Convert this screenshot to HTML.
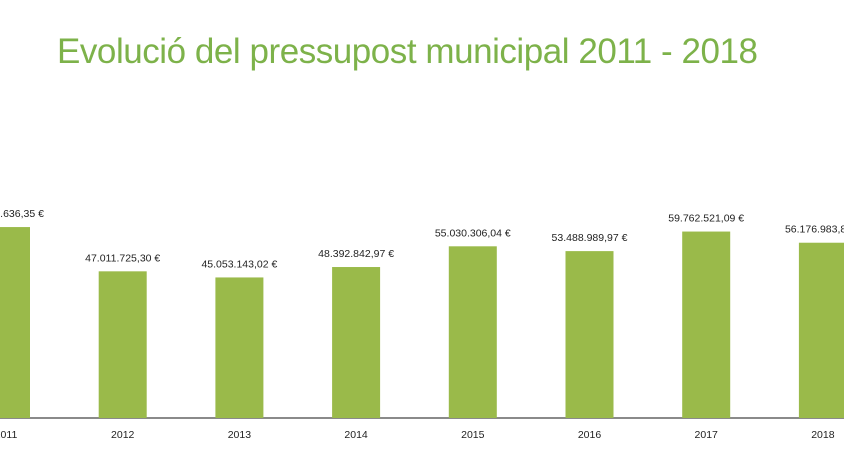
<!DOCTYPE html>
<html><head><meta charset="utf-8"><style>
body{margin:0;background:#fff;}
svg{display:block;}
</style></head><body>
<svg width="844" height="474" viewBox="0 0 844 474" xmlns="http://www.w3.org/2000/svg" id="chart">
<text x="57" y="63" font-family="Liberation Sans, sans-serif" font-size="35" fill="#7db24a" textLength="701" lengthAdjust="spacing">Evolució del pressupost municipal 2011 - 2018</text>
<line x1="0" y1="418" x2="844" y2="418" stroke="#444" stroke-width="1.2"/>
<g id="bars"></g>
</svg>
<script>
const years = ["2011","2012","2013","2014","2015","2016","2017","2018"];
const values = [61.2, 47.01, 45.05, 48.39, 55.03, 53.49, 59.76, 56.18];
const labels = ["61.243.636,35 €","47.011.725,30 €","45.053.143,02 €","48.392.842,97 €","55.030.306,04 €","53.488.989,97 €","59.762.521,09 €","56.176.983,85 €"];
const NS="http://www.w3.org/2000/svg";
const g=document.getElementById('bars');
const baseY=418, pxPerM=3.12, step=116.7, x0=6, bw=48;
function xs(i){return x0+i*step;}
function ys(v){return baseY-v*pxPerM;}
years.forEach((y,i)=>{
  const cx=xs(i), top=ys(values[i]);
  const r=document.createElementNS(NS,'rect');
  r.setAttribute('x',cx-bw/2);r.setAttribute('y',top);r.setAttribute('width',bw);r.setAttribute('height',baseY-top);
  r.setAttribute('fill','#9aba4a');
  
  
  g.appendChild(r);
  const t=document.createElementNS(NS,'text');
  t.setAttribute('x',cx);t.setAttribute('y',top-10);t.setAttribute('text-anchor','middle');
  t.setAttribute('font-family','Liberation Sans, sans-serif');t.setAttribute('font-size','10.5');t.setAttribute('fill','#222');
  t.textContent=labels[i];
  
  
  g.appendChild(t);
  const l=document.createElementNS(NS,'text');
  l.setAttribute('x',cx);l.setAttribute('y',438);l.setAttribute('text-anchor','middle');
  l.setAttribute('font-family','Liberation Sans, sans-serif');l.setAttribute('font-size','10.5');l.setAttribute('fill','#222');
  l.textContent=y;
  
  
  g.appendChild(l);
});
</script>
</body></html>
